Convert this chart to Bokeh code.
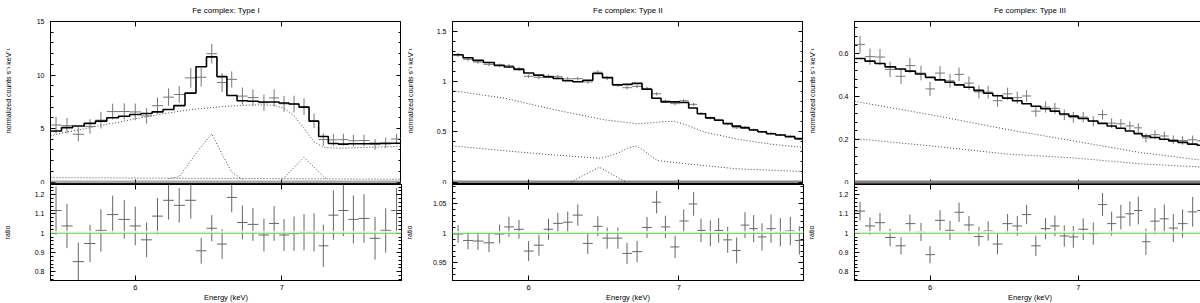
import numpy as np
from bokeh.plotting import figure
from bokeh.layouts import row, column
from bokeh.models import (LogAxis, LinearAxis, FixedTicker, SingleIntervalTicker,
                          CustomJSTickFormatter, CustomLabelingPolicy, Range1d,
                          BoxAnnotation, Span)
from bokeh.embed import file_html
from bokeh.resources import INLINE

FONT = "Liberation Sans"

titles = ["Fe complex: Type I", "Fe complex: Type II", "Fe complex: Type III"]
x_ranges = [(5.488, 7.94), (5.549, 7.957), (5.547, 7.99)]
top_y_max = [15.0, 1.6, 0.75]
top_y_tick = [5, 0.5, 0.2]
ratio_ranges = [(0.755, 1.253), (0.92, 1.083), (0.755, 1.253)]
ratio_tick = [0.1, 0.05, 0.1]
energy_ticks = [6, 7]
ylabel_top = "\u2002" * 7 + "normalized counts s\u207b\u00b9 keV\u207b\u00b9"
ylabel_bottom = "ratio"
xlabel = "Energy (keV)"

# ---------------- Type I ----------------
e1 = [5.520, 5.584, 5.651, 5.721, 5.787, 5.859, 5.931, 6.000, 6.072, 6.142, 6.214,
      6.284, 6.361, 6.431, 6.503, 6.574, 6.641, 6.716, 6.791, 6.870, 6.944, 7.017,
      7.091, 7.166, 7.242, 7.313, 7.391, 7.469, 7.548, 7.633, 7.722, 7.809, 7.899]
model1 = [4.77, 5.08, 5.23, 5.48, 5.69, 6.00, 6.15, 6.31, 6.40, 6.55, 6.77, 7.14,
          8.31, 10.77, 11.69, 9.85, 8.09, 7.60, 7.54, 7.48, 7.48, 7.38, 7.29, 7.00,
          5.69, 4.25, 3.60, 3.54, 3.58, 3.58, 3.60, 3.60, 3.62]
data1 = [5.33, 5.27, 4.46, 5.19, 5.78, 6.58, 6.59, 6.55, 6.18, 7.13, 7.93, 8.18,
         9.73, 9.79, 11.99, 9.30, 9.59, 8.03, 7.89, 7.41, 7.86, 7.31, 7.28, 7.04,
         5.72, 3.97, 3.94, 3.96, 3.86, 3.88, 3.51, 3.65, 4.02]
derr1 = [0.75, 0.72, 0.65, 0.68, 0.78, 0.74, 0.76, 0.78, 0.72, 0.76, 0.82, 0.78,
         0.92, 0.86, 0.92, 0.88, 0.75, 0.80, 0.76, 0.76, 0.80, 0.74, 0.78, 0.78,
         0.68, 0.58, 0.56, 0.56, 0.54, 0.54, 0.50, 0.50, 0.50]
ratio1 = [1.118, 1.038, 0.853, 0.947, 1.015, 1.097, 1.072, 1.038, 0.966, 1.089, 1.171,
          1.145, 1.171, 0.909, 1.026, 0.944, 1.186, 1.056, 1.046, 0.991, 1.051, 0.991,
          0.998, 1.005, 1.005, 0.935, 1.094, 1.118, 1.072, 1.077, 0.974, 1.015, 1.118]
rerr1 = [0.125, 0.115, 0.098, 0.097, 0.110, 0.098, 0.100, 0.100, 0.090, 0.094, 0.100,
         0.090, 0.095, 0.067, 0.068, 0.077, 0.077, 0.088, 0.085, 0.085, 0.090, 0.083,
         0.089, 0.094, 0.099, 0.110, 0.128, 0.132, 0.124, 0.126, 0.111, 0.115, 0.117]
cont1_e = [5.488, 5.520, 5.584, 5.651, 5.721, 5.787, 5.859, 5.931, 6.000, 6.072, 6.142,
           6.214, 6.284, 6.361, 6.431, 6.503, 6.574, 6.641, 6.716, 6.791, 6.870, 6.944,
           7.017, 7.091, 7.166, 7.242, 7.313, 7.391, 7.469, 7.548, 7.633, 7.722, 7.809,
           7.899, 7.940]
cont1 = [4.30, 4.46, 4.68, 4.86, 5.08, 5.29, 5.48, 5.69, 5.91, 6.09, 6.28, 6.46, 6.60,
         6.77, 6.86, 6.95, 7.05, 7.10, 7.17, 7.20, 7.20, 7.17, 6.90, 6.20, 5.00, 3.75,
         3.25, 3.17, 3.17, 3.20, 3.23, 3.26, 3.29, 3.32, 3.33]
gauss1a_e = [6.214, 6.284, 6.361, 6.431, 6.503, 6.574, 6.641, 6.716]
gauss1a = [0.30, 0.50, 2.00, 3.30, 4.50, 2.60, 0.90, 0.25]
gauss1b_e = [7.005, 7.091, 7.166, 7.242, 7.313, 7.345]
gauss1b = [0.25, 1.35, 2.30, 1.38, 0.52, 0.25]
low1_e = [5.488, 6.2, 6.9, 7.94]
low1 = [0.40, 0.36, 0.32, 0.26]

# ---------------- Type II ----------------
e2 = [5.581, 5.638, 5.696, 5.761, 5.824, 5.880, 5.941, 6.000, 6.064, 6.124, 6.183,
      6.246, 6.311, 6.376, 6.442, 6.504, 6.576, 6.638, 6.707, 6.776, 6.843, 6.905,
      6.974, 7.036, 7.108, 7.162, 7.231, 7.293, 7.361, 7.429, 7.493, 7.560, 7.625,
      7.696, 7.770, 7.850, 7.923]
model2 = [1.268, 1.238, 1.212, 1.192, 1.163, 1.146, 1.123, 1.087, 1.065, 1.048, 1.032,
          1.009, 0.999, 1.015, 1.081, 1.042, 0.970, 0.973, 0.983, 0.924, 0.835, 0.799,
          0.799, 0.793, 0.737, 0.681, 0.639, 0.616, 0.583, 0.557, 0.540, 0.518, 0.501,
          0.481, 0.468, 0.452, 0.432]
data2 = [1.267, 1.223, 1.196, 1.173, 1.162, 1.159, 1.131, 1.054, 1.044, 1.055, 1.050,
         1.028, 1.030, 0.998, 1.094, 1.034, 0.962, 0.940, 0.953, 0.933, 0.879, 0.808,
         0.781, 0.810, 0.774, 0.684, 0.639, 0.619, 0.577, 0.541, 0.548, 0.522, 0.498,
         0.485, 0.469, 0.454, 0.427]
derr2 = [0.019, 0.019, 0.018, 0.019, 0.019, 0.019, 0.018, 0.018, 0.019, 0.019, 0.019,
         0.018, 0.018, 0.018, 0.018, 0.019, 0.017, 0.017, 0.018, 0.017, 0.016, 0.015,
         0.015, 0.016, 0.015, 0.014, 0.014, 0.013, 0.013, 0.012, 0.012, 0.012, 0.012,
         0.012, 0.011, 0.011, 0.010]
ratio2 = [0.999, 0.988, 0.987, 0.984, 0.999, 1.011, 1.007, 0.970, 0.980, 1.007, 1.017,
          1.019, 1.031, 0.983, 1.012, 0.992, 0.992, 0.966, 0.969, 1.010, 1.053, 1.011,
          0.977, 1.021, 1.050, 1.005, 1.000, 1.005, 0.989, 0.971, 1.014, 1.008, 0.994,
          1.008, 1.002, 1.004, 0.988]
rerr2 = [0.015, 0.015, 0.015, 0.016, 0.016, 0.017, 0.016, 0.017, 0.018, 0.018, 0.018,
         0.018, 0.018, 0.018, 0.017, 0.018, 0.018, 0.018, 0.018, 0.018, 0.019, 0.019,
         0.019, 0.020, 0.020, 0.020, 0.022, 0.021, 0.022, 0.022, 0.022, 0.023, 0.023,
         0.024, 0.024, 0.024, 0.024]
cont2a_e = [5.549, 5.855, 6.162, 6.486, 6.712, 6.851, 6.970, 7.066, 7.187, 7.437, 7.696, 7.957]
cont2a = [0.910, 0.835, 0.720, 0.620, 0.580, 0.596, 0.606, 0.563, 0.498, 0.426, 0.377, 0.344]
cont2b_e = [5.549, 5.855, 6.162, 6.464, 6.576, 6.642, 6.700, 6.757, 6.815, 6.851, 7.066,
            7.437, 7.957]
cont2b = [0.360, 0.311, 0.269, 0.236, 0.288, 0.337, 0.360, 0.311, 0.246, 0.213, 0.180,
          0.131, 0.105]
gauss2_e = [6.268, 6.354, 6.453, 6.542, 6.631]
gauss2 = [0.0, 0.072, 0.147, 0.072, 0.0]

# ---------------- Type III ----------------
e3 = [5.579, 5.637, 5.696, 5.756, 5.822, 5.876, 5.944, 6.000, 6.063, 6.126, 6.184,
      6.248, 6.313, 6.374, 6.436, 6.504, 6.570, 6.634, 6.698, 6.766, 6.832, 6.899,
      6.964, 7.036, 7.110, 7.179, 7.247, 7.317, 7.386, 7.451, 7.510, 7.581, 7.655,
      7.727, 7.802, 7.884, 7.958]
model3 = [0.577, 0.565, 0.554, 0.538, 0.528, 0.518, 0.505, 0.489, 0.477, 0.466, 0.454,
          0.443, 0.428, 0.415, 0.403, 0.392, 0.380, 0.366, 0.354, 0.342, 0.331, 0.318,
          0.308, 0.297, 0.285, 0.274, 0.262, 0.251, 0.238, 0.226, 0.215, 0.208, 0.200,
          0.192, 0.185, 0.177, 0.172]
data3 = [0.643, 0.586, 0.584, 0.526, 0.494, 0.544, 0.509, 0.435, 0.509, 0.473, 0.503,
         0.462, 0.421, 0.420, 0.380, 0.412, 0.394, 0.402, 0.331, 0.350, 0.344, 0.314,
         0.302, 0.303, 0.284, 0.315, 0.275, 0.272, 0.262, 0.253, 0.206, 0.221, 0.215,
         0.197, 0.194, 0.197, 0.192]
derr3 = [0.040, 0.038, 0.038, 0.036, 0.035, 0.035, 0.034, 0.033, 0.033, 0.032, 0.032,
         0.031, 0.030, 0.030, 0.029, 0.029, 0.028, 0.027, 0.027, 0.026, 0.026, 0.025,
         0.025, 0.024, 0.024, 0.023, 0.023, 0.022, 0.022, 0.022, 0.021, 0.021, 0.021,
         0.020, 0.020, 0.020, 0.020]
ratio3 = [1.115, 1.038, 1.055, 0.978, 0.935, 1.050, 1.007, 0.889, 1.067, 1.015, 1.109,
          1.043, 0.983, 1.012, 0.944, 1.050, 1.038, 1.097, 0.935, 1.024, 1.038, 0.986,
          0.981, 1.021, 0.998, 1.149, 1.050, 1.084, 1.101, 1.118, 0.956, 1.063, 1.075,
          1.027, 1.050, 1.111, 1.118]
rerr3 = [0.048, 0.045, 0.050, 0.045, 0.045, 0.047, 0.047, 0.045, 0.053, 0.050, 0.050,
         0.047, 0.050, 0.050, 0.053, 0.050, 0.051, 0.050, 0.053, 0.055, 0.054, 0.055,
         0.056, 0.056, 0.058, 0.060, 0.062, 0.064, 0.064, 0.072, 0.068, 0.068, 0.074,
         0.073, 0.073, 0.077, 0.080]
cont3a_e = [5.547, 6.0, 6.497, 7.0, 7.464, 7.986]
cont3a = [0.377, 0.315, 0.246, 0.188, 0.138, 0.100]
cont3b_e = [5.547, 6.0, 6.497, 7.0, 7.464, 7.986]
cont3b = [0.203, 0.169, 0.131, 0.111, 0.085, 0.069]

panels = [
    dict(e=e1, model=model1, data=data1, derr=derr1, ratio=ratio1, rerr=rerr1,
         comps=[(cont1_e, cont1), (gauss1a_e, gauss1a), (gauss1b_e, gauss1b), (low1_e, low1)],
         zero=dict(color="#555555", dash="1 1", width=3)),
    dict(e=e2, model=model2, data=data2, derr=derr2, ratio=ratio2, rerr=rerr2,
         comps=[(cont2a_e, cont2a), (cont2b_e, cont2b), (gauss2_e, gauss2)],
         zero=dict(color="#111111", dash="1 1", width=3)),
    dict(e=e3, model=model3, data=data3, derr=derr3, ratio=ratio3, rerr=rerr3,
         comps=[(cont3a_e, cont3a), (cont3b_e, cont3b)],
         zero=dict(color="#808080", dash="solid", width=3)),
]

# layout geometry (pixels)
border_left = [48, 48, 48]
border_right = [1, 1, 1]
frame_w = [351, 351, 351]
top_h, bot_h = 163, 96
border_top, border_bottom = 21, 22
zero_lift = 2.5
label_standoff_top = [22, 20, 20]
label_standoff_bot = [21, 17, 21]

num_fmt = "return Number(tick.toFixed(3)).toString();"


def edges(c):
    c = np.asarray(c, float)
    mid = np.sqrt(c[:-1] * c[1:])
    lo = np.concatenate([[c[0] ** 2 / mid[0]], mid])
    hi = np.concatenate([mid, [c[-1] ** 2 / mid[-1]]])
    return lo, hi


def style_axis(ax, labels, standoff=6):
    ax.axis_line_color = "black"
    ax.axis_line_width = 1
    ax.major_tick_in = 5
    ax.major_tick_out = 0
    ax.minor_tick_in = 3
    ax.minor_tick_out = 0
    ax.major_tick_line_color = "black"
    ax.minor_tick_line_color = "black"
    ax.axis_label_text_font = FONT
    ax.axis_label_text_font_size = "7px"
    ax.axis_label_text_font_style = "normal"
    ax.axis_label_text_color = "black"
    if labels:
        ax.major_label_text_font = FONT
        ax.major_label_text_font_size = "7px"
        ax.major_label_text_color = "black"
        ax.major_label_standoff = standoff
    else:
        ax.major_label_policy = CustomLabelingPolicy(code="return [];")
        ax.major_label_text_font_size = "0px"
        ax.major_label_standoff = 0
        ax.axis_label = None


def xticker():
    return FixedTicker(ticks=energy_ticks, minor_ticks=[])


def base(i, h, ymin, ymax, top):
    kw = dict(frame_width=frame_w[i], frame_height=h, x_axis_type="log",
              x_range=Range1d(*x_ranges[i]), y_range=Range1d(ymin, ymax),
              output_backend="svg", toolbar_location=None,
              min_border_left=border_left[i], min_border_right=border_right[i],
              min_border_top=border_top if top else 0,
              min_border_bottom=0 if top else border_bottom,
              background_fill_color="white", border_fill_color="white")
    if top:
        kw["title"] = titles[i]
    p = figure(**kw)
    p.grid.visible = False
    p.outline_line_color = "black"
    p.outline_line_width = 1
    return p


figs = []
for i, P in enumerate(panels):
    lo, hi = edges(P["e"])
    e = np.asarray(P["e"])
    step_x = np.column_stack([lo, hi]).ravel()
    step_y = np.repeat(np.asarray(P["model"]), 2)
    d = np.asarray(P["data"]); de = np.asarray(P["derr"])
    r = np.asarray(P["ratio"]); re = np.asarray(P["rerr"])

    # ---- top panel
    ymax = top_y_max[i]
    ymin = -zero_lift / (top_h - zero_lift) * ymax
    pt = base(i, top_h, ymin, ymax, True)
    pt.title.text_font = FONT
    pt.title.text_font_size = "8px"
    pt.title.text_font_style = "normal"
    pt.title.text_color = "black"
    pt.title.align = "center"
    pt.title.vertical_align = "top"
    pt.title.standoff = 10

    pt.yaxis[0].ticker = SingleIntervalTicker(interval=top_y_tick[i], num_minor_ticks=5)
    pt.yaxis[0].formatter = CustomJSTickFormatter(code=num_fmt)
    pt.yaxis[0].axis_label = ylabel_top
    style_axis(pt.yaxis[0], True)
    pt.yaxis[0].axis_label_standoff = label_standoff_top[i]
    pt.xaxis[0].ticker = xticker()
    style_axis(pt.xaxis[0], False)
    ax_r = LinearAxis(ticker=SingleIntervalTicker(interval=top_y_tick[i], num_minor_ticks=5))
    style_axis(ax_r, False)
    pt.add_layout(ax_r, "right")
    ax_a = LogAxis(ticker=xticker())
    style_axis(ax_a, False)
    pt.add_layout(ax_a, "above")

    z = P["zero"]
    pt.add_layout(Span(location=0, dimension="width", line_color=z["color"],
                       line_width=z["width"], line_dash=z["dash"]))
    for ce, cv in P["comps"]:
        pt.line(ce, cv, line_color="#444444", line_width=1, line_dash="1 2")
    pt.segment(x0=lo, x1=hi, y0=d, y1=d, line_color="#777777", line_width=1)
    pt.segment(x0=e, x1=e, y0=d - de, y1=d + de, line_color="#777777", line_width=1)
    pt.line(step_x, step_y, line_color="black", line_width=1.6)

    # ---- ratio panel
    rmin, rmax = ratio_ranges[i]
    pb = base(i, bot_h, rmin, rmax, False)
    pb.yaxis[0].ticker = SingleIntervalTicker(interval=ratio_tick[i], num_minor_ticks=5)
    pb.yaxis[0].formatter = CustomJSTickFormatter(code=num_fmt)
    pb.yaxis[0].axis_label = ylabel_bottom
    style_axis(pb.yaxis[0], True)
    pb.yaxis[0].axis_label_standoff = label_standoff_bot[i]
    pb.xaxis[0].ticker = xticker()
    pb.xaxis[0].formatter = CustomJSTickFormatter(code="return tick.toFixed(0);")
    pb.xaxis[0].axis_label = xlabel
    style_axis(pb.xaxis[0], True, standoff=4)
    pb.xaxis[0].major_label_text_font_size = "7.5px"
    pb.xaxis[0].axis_label_standoff = 0
    pb.xaxis[0].axis_label_text_font_size = "7.5px"
    ax_r = LinearAxis(ticker=SingleIntervalTicker(interval=ratio_tick[i], num_minor_ticks=5))
    style_axis(ax_r, False)
    pb.add_layout(ax_r, "right")
    ax_a = LogAxis(ticker=xticker())
    style_axis(ax_a, False)
    pb.add_layout(ax_a, "above")

    band = (rmax - rmin) * 0.025
    pb.add_layout(BoxAnnotation(bottom=1.0, top=1.0 + band, fill_color="#fdf3e6",
                                fill_alpha=0.8, line_alpha=0))
    pb.segment(x0=lo, x1=hi, y0=r, y1=r, line_color="#666666", line_width=1)
    pb.segment(x0=e, x1=e, y0=r - re, y1=r + re, line_color="#666666", line_width=1)
    pb.add_layout(Span(location=1.0, dimension="width", line_color="#5cd65c", line_width=1))

    figs.append(column(pt, pb, spacing=0))

layout = row(*figs, spacing=0)
open("out.html", "w").write(file_html(layout, INLINE))
